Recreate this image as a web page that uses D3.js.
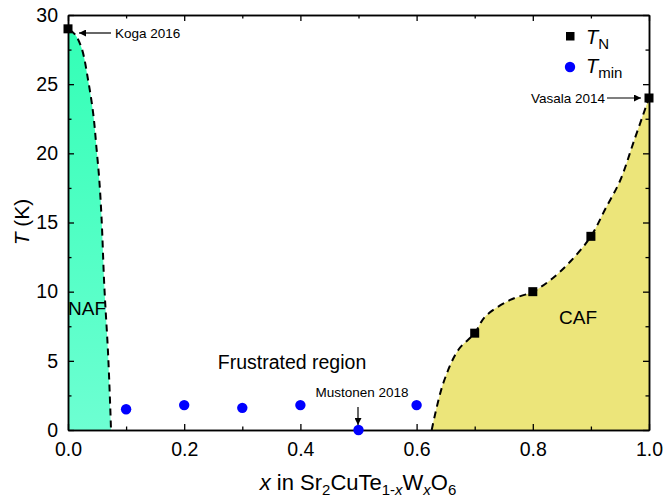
<!DOCTYPE html>
<html><head><meta charset="utf-8">
<script src="https://cdn.jsdelivr.net/npm/d3@7"></script>
<style>body{margin:0;background:#fff}svg{display:block;font-family:"Liberation Sans",Arial,sans-serif}</style>
</head><body>
<svg id="c" width="663" height="500"></svg>
<script>
// Data
const tnX = [0.0, 0.7, 0.8, 0.9, 1.0];
const tnY = [29, 7, 10, 14, 24];
const tminX = [0.1, 0.2, 0.3, 0.4, 0.5, 0.6];
const tminY = [1.5, 1.8, 1.6, 1.8, 0.0, 1.8];
const nafX = [0.003, 0.012, 0.0235, 0.035, 0.0436, 0.049, 0.054, 0.058, 0.0625, 0.069, 0.0735, 0.074];
const nafY = [28.9, 28.6, 27.6, 25.2, 22.8, 20.4, 18.0, 15.1, 10.4, 5.5, 0.7, 0];
const cafX = [0.626, 0.646, 0.672, 0.7, 0.718, 0.761, 0.8, 0.832, 0.865, 0.9, 0.925, 0.95, 0.975, 1.0];
const cafY = [0, 3.4, 5.8, 7, 8.2, 9.4, 10, 10.9, 12.2, 14, 16, 18, 21, 24];
const xTicks = [0.0, 0.2, 0.4, 0.6, 0.8, 1.0];
const yTicks = [0, 5, 10, 15, 20, 25, 30];

const svg = d3.select("#c");
const x = d3.scaleLinear().domain([0, 1]).range([68, 649]);
const y = d3.scaleLinear().domain([0, 30]).range([430, 15]);

const defs = svg.append("defs");
const g = defs.append("linearGradient").attr("id","naf").attr("x1",0).attr("y1",0).attr("x2",0).attr("y2",1);
g.append("stop").attr("offset","0%").attr("stop-color","#33ffb6");
g.append("stop").attr("offset","100%").attr("stop-color","#6dffd2");

const nafPts = nafX.map((v,i)=>[v, nafY[i]]);
const cafPts = cafX.map((v,i)=>[v, cafY[i]]);
const curveLine = d3.line().x(d=>x(d[0])).y(d=>y(d[1])).curve(d3.curveCatmullRom);

// NAF fill
svg.append("path")
  .attr("d", `M${x(0)},${y(29)}L` + curveLine(nafPts).slice(1) + `L${x(0)},${y(0)}Z`)
  .attr("fill","url(#naf)");
// CAF fill
svg.append("path")
  .attr("d", curveLine(cafPts) + `L${x(1)},${y(0)}Z`)
  .attr("fill","#ece57a");

// dashed boundaries
[nafPts, cafPts].forEach(p => svg.append("path").attr("d", curveLine(p))
  .attr("fill","none").attr("stroke","#000").attr("stroke-width",2).attr("stroke-dasharray","7,5"));

// Axes with inward ticks
const fs = "19.5px";
function addAxis(axis, tr, showLabels){
  const gg = svg.append("g").attr("transform", tr).call(axis);
  gg.select(".domain").attr("stroke-width",1.5);
  gg.selectAll(".tick line").attr("stroke-width",1.3);
  gg.selectAll("text").style("font-size",fs).attr("fill","#000").style("font-family","'Liberation Sans',Arial,sans-serif");
  if(!showLabels) gg.selectAll("text").remove();
  return gg;
}
const xMinor = [0.1, 0.3, 0.5, 0.7, 0.9];
const yMinor = [2.5, 7.5, 12.5, 17.5, 22.5, 27.5];
addAxis(d3.axisBottom(x).tickValues(xTicks).tickFormat(d3.format(".1f")).tickSizeInner(-6).tickSizeOuter(0).tickPadding(12), `translate(0,${y(0)})`, true);
addAxis(d3.axisBottom(x).tickValues(xMinor).tickFormat("").tickSizeInner(-3.5).tickSizeOuter(0), `translate(0,${y(0)})`, false);
addAxis(d3.axisTop(x).tickValues(xTicks).tickFormat("").tickSizeInner(-6).tickSizeOuter(0), `translate(0,${y(30)})`, false);
addAxis(d3.axisTop(x).tickValues(xMinor).tickFormat("").tickSizeInner(-3.5).tickSizeOuter(0), `translate(0,${y(30)})`, false);
addAxis(d3.axisLeft(y).tickValues(yTicks).tickFormat(d3.format("d")).tickSizeInner(-6).tickSizeOuter(0).tickPadding(10), `translate(${x(0)},0)`, true);
addAxis(d3.axisLeft(y).tickValues(yMinor).tickFormat("").tickSizeInner(-3.5).tickSizeOuter(0), `translate(${x(0)},0)`, false);
addAxis(d3.axisRight(y).tickValues(yTicks).tickFormat("").tickSizeInner(-6).tickSizeOuter(0), `translate(${x(1)},0)`, false);
addAxis(d3.axisRight(y).tickValues(yMinor).tickFormat("").tickSizeInner(-3.5).tickSizeOuter(0), `translate(${x(1)},0)`, false);

// Data points
const tn = tnX.map((v,i)=>[v,tnY[i]]);
svg.selectAll("rect.tn").data(tn).enter().append("rect").attr("class","tn")
  .attr("x",d=>x(d[0])-4.5).attr("y",d=>y(d[1])-4.5).attr("width",9).attr("height",9).attr("fill","#000");
const tm = tminX.map((v,i)=>[v,tminY[i]]);
svg.selectAll("circle.tm").data(tm).enter().append("circle").attr("class","tm")
  .attr("cx",d=>x(d[0])).attr("cy",d=>y(d[1])).attr("r",5.2).attr("fill","#0000ff");

defs.append("marker").attr("id","ah").attr("viewBox","0 0 10 10").attr("refX",10).attr("refY",5)
  .attr("markerWidth",10).attr("markerHeight",7).attr("markerUnits","userSpaceOnUse").attr("orient","auto")
  .append("path").attr("d","M0,0L10,5L0,10Z").attr("fill","#000");

function arrow(x1,y1,x2,y2){
  svg.append("line").attr("x1",x1).attr("y1",y1).attr("x2",x2).attr("y2",y2)
    .attr("stroke","#000").attr("stroke-width",1.2).attr("marker-end","url(#ah)");
}
function txt(s, xx, yy, size, anchor){
  return svg.append("text").attr("x",xx).attr("y",yy).attr("font-size",size).attr("text-anchor",anchor||"start").attr("fill","#000").text(s);
}
txt("Koga 2016", 115, 38, "13.5px");
arrow(111, 33, 79, 33);
txt("Vasala 2014", 605, 103, "13.5px", "end");
arrow(607, 98, 641, 98);
txt("Mustonen 2018", 362, 397, "13.5px", "middle");
arrow(358, 407, 358, 425);

txt("Frustrated region", 292, 369, "19.5px", "middle");
txt("NAF", 87, 315, "19px", "middle");
txt("CAF", 578, 324, "19px", "middle");

// Legend
svg.append("rect").attr("x",566).attr("y",32).attr("width",8.5).attr("height",8.5).attr("fill","#000");
svg.append("circle").attr("cx",570).attr("cy",67).attr("r",5.2).attr("fill","#0000ff");
const l1 = svg.append("text").attr("x",586).attr("y",44).attr("font-size","20px");
l1.append("tspan").attr("font-style","italic").text("T");
l1.append("tspan").attr("font-size","15px").attr("dy",5).text("N");
const l2 = svg.append("text").attr("x",586).attr("y",73).attr("font-size","20px");
l2.append("tspan").attr("font-style","italic").text("T");
l2.append("tspan").attr("font-size","15px").attr("dy",5).text("min");

// Axis titles
const xt = svg.append("text").attr("x",358).attr("y",490).attr("text-anchor","middle").attr("font-size","22px");
xt.append("tspan").attr("font-style","italic").text("x");
xt.append("tspan").text(" in Sr");
xt.append("tspan").attr("font-size","15px").attr("dy",5).text("2");
xt.append("tspan").attr("dy",-5).text("CuTe");
xt.append("tspan").attr("font-size","15px").attr("dy",5).text("1-");
xt.append("tspan").attr("font-size","15px").attr("font-style","italic").text("x");
xt.append("tspan").attr("dy",-5).text("W");
xt.append("tspan").attr("font-size","15px").attr("font-style","italic").attr("dy",5).text("x");
xt.append("tspan").attr("dy",-5).text("O");
xt.append("tspan").attr("font-size","15px").attr("dy",5).text("6");

const yt = svg.append("text").attr("transform","translate(29,222) rotate(-90)").attr("text-anchor","middle").attr("font-size","21px");
yt.append("tspan").attr("font-style","italic").text("T");
yt.append("tspan").text(" (K)");
</script>
</body></html>
